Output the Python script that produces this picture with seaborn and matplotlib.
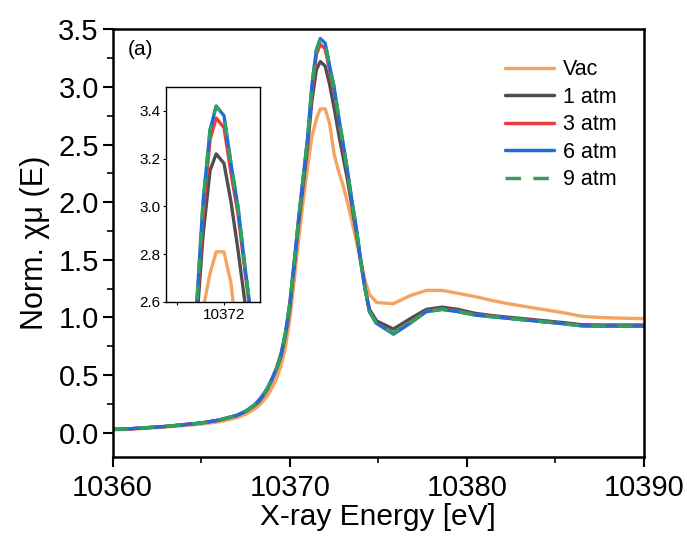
import numpy as np
import pandas as pd
import seaborn as sns
import matplotlib
matplotlib.use("Agg")
import matplotlib.pyplot as plt
from matplotlib.ticker import MultipleLocator, FixedLocator, FormatStrFormatter

sns.set_style("ticks")
plt.rcParams['font.family'] = ['Liberation Sans', 'DejaVu Sans']
plt.rcParams.update({'text.color': 'black', 'axes.labelcolor': 'black',
                     'xtick.color': 'black', 'ytick.color': 'black'})

energy = [10360, 10361, 10362, 10363, 10364, 10365, 10366, 10367, 10367.5, 10368,
          10368.25, 10368.5, 10368.75, 10369, 10369.25, 10369.5, 10369.75, 10370,
          10370.25, 10370.5, 10370.75, 10371, 10371.25,
          10371.5, 10371.72, 10372, 10372.25, 10372.5, 10372.75, 10373, 10373.25, 10373.5,
          10373.75, 10374, 10374.25, 10374.5, 10374.9, 10375.85, 10376.8, 10377.7, 10378.6,
          10379.5, 10380.5, 10381.5, 10382.5, 10383.5, 10384.5, 10385.5, 10386.5, 10387.5,
          10388.5, 10390]

vac = [0.025, 0.03, 0.04, 0.05, 0.062, 0.075, 0.095, 0.13, 0.16, 0.205,
       0.235, 0.275, 0.325, 0.39, 0.47, 0.58, 0.74, 0.98,
       1.32, 1.68, 2.0, 2.3, 2.57,
       2.72, 2.81, 2.81, 2.68, 2.42, 2.27, 2.15, 2.0, 1.84,
       1.67, 1.50, 1.32, 1.20, 1.13, 1.12, 1.19, 1.235, 1.235,
       1.21, 1.18, 1.145, 1.115, 1.09, 1.065, 1.04, 1.01, 1.0,
       0.995, 0.99]

atm1 = [0.03, 0.035, 0.045, 0.055, 0.07, 0.085, 0.11, 0.15, 0.185, 0.235,
        0.27, 0.32, 0.38, 0.46, 0.55, 0.66, 0.84, 1.08,
        1.44, 1.82, 2.14, 2.48, 2.88,
        3.15, 3.22, 3.18, 3.02, 2.82, 2.6, 2.4, 2.2, 1.97,
        1.74, 1.48, 1.25, 1.07, 0.97, 0.90, 0.99, 1.07, 1.09,
        1.07, 1.035, 1.015, 1.0, 0.985, 0.97, 0.955, 0.937, 0.935,
        0.935, 0.935]

atm3 = [0.03, 0.035, 0.045, 0.055, 0.07, 0.085, 0.11, 0.15, 0.185, 0.24,
        0.28, 0.33, 0.39, 0.47, 0.56, 0.68, 0.86, 1.12,
        1.48, 1.86, 2.19, 2.53, 2.96,
        3.28, 3.37, 3.33, 3.14, 2.97, 2.73, 2.5, 2.26, 2.01,
        1.77, 1.50, 1.25, 1.05, 0.95, 0.865, 0.955, 1.055, 1.075,
        1.055, 1.025, 1.008, 0.992, 0.978, 0.962, 0.947, 0.929, 0.927,
        0.927, 0.927]

atm6 = [0.03, 0.035, 0.045, 0.055, 0.07, 0.085, 0.11, 0.15, 0.185, 0.24,
        0.28, 0.33, 0.39, 0.47, 0.56, 0.68, 0.86, 1.12,
        1.48, 1.86, 2.21, 2.55, 3.02,
        3.32, 3.42, 3.38, 3.18, 3.0, 2.75, 2.52, 2.28, 2.02,
        1.78, 1.50, 1.25, 1.05, 0.95, 0.855, 0.95, 1.05, 1.07,
        1.05, 1.02, 1.005, 0.99, 0.975, 0.96, 0.945, 0.927, 0.925,
        0.925, 0.925]

atm9 = [0.03, 0.035, 0.045, 0.055, 0.07, 0.085, 0.11, 0.15, 0.185, 0.24,
        0.28, 0.33, 0.39, 0.47, 0.56, 0.68, 0.86, 1.12,
        1.48, 1.86, 2.21, 2.55, 3.02,
        3.32, 3.42, 3.38, 3.18, 3.0, 2.75, 2.52, 2.28, 2.02,
        1.78, 1.50, 1.25, 1.05, 0.94, 0.865, 0.955, 1.05, 1.07,
        1.05, 1.02, 1.005, 0.99, 0.975, 0.96, 0.945, 0.927, 0.925,
        0.925, 0.925]

labels = ["Vac", "1 atm", "3 atm", "6 atm", "9 atm"]
colors = ["#F5A360", "#4F4F4F", "#EE3B40", "#1F6ED8", "#2FA35C"]
series = [vac, atm1, atm3, atm6, atm9]

fig = plt.figure(figsize=(6.87, 5.38), dpi=100)
ax = fig.add_axes([0.164, 0.1506, 0.7735, 0.7949])
axin = fig.add_axes([0.2416, 0.4387, 0.1368, 0.3996])

for target in (ax, axin):
    for lab, col, vals in zip(labels, colors, series):
        sns.lineplot(x=energy, y=vals, ax=target, color=col, lw=2.4,
                     label=lab if target is ax else None, legend=False)
        if lab == "9 atm":
            target.lines[-1].set_dashes((4.5, 3.5))

ax.set_xlim(10360, 10390)
ax.set_ylim(-0.21, 3.5)
ax.xaxis.set_major_locator(MultipleLocator(10))
ax.xaxis.set_minor_locator(MultipleLocator(5))
ax.yaxis.set_major_locator(MultipleLocator(0.5))
ax.yaxis.set_minor_locator(MultipleLocator(0.25))
ax.yaxis.set_major_formatter(FormatStrFormatter('%.1f'))
ax.tick_params(which='major', direction='out', length=7, width=1.5, labelsize=21,
               top=False, right=False)
ax.tick_params(axis='x', which='major', pad=5)
ax.tick_params(axis='y', which='major', pad=3)
ax.tick_params(which='minor', direction='out', length=4, width=1.2, top=False, right=False)
for s in ax.spines.values():
    s.set_linewidth(1.8)
    s.set_color('black')
ax.set_xlabel("X-ray Energy [eV]", fontsize=21.5, labelpad=1)
ax.set_ylabel("Norm. χμ (E)", fontsize=22, labelpad=6)

ax.text(0.029, 0.975, "(a)", transform=ax.transAxes, fontsize=15, va='top', ha='left')

handles, labs = ax.get_legend_handles_labels()
leg = ax.legend(handles, labs, loc='upper left', bbox_to_anchor=(0.738, 0.93),
                frameon=False, fontsize=15.5, handlelength=2.3, handletextpad=0.4,
                labelspacing=0.3, borderpad=0, borderaxespad=0)
for h in leg.get_lines():
    h.set_linewidth(2.5)

axin.set_xlim(10369.92, 10373.29)
axin.set_ylim(2.6, 3.5)
axin.xaxis.set_major_locator(FixedLocator([10372]))
axin.xaxis.set_minor_locator(FixedLocator([10370.33]))
axin.yaxis.set_major_locator(FixedLocator([2.6, 2.8, 3.0, 3.2, 3.4]))
axin.yaxis.set_major_formatter(FormatStrFormatter('%.1f'))
axin.tick_params(which='both', direction='out', length=2, width=0.8, labelsize=11, pad=2)
for s in axin.spines.values():
    s.set_linewidth(1.0)
    s.set_color('black')
axin.set_xlabel("")
axin.set_ylabel("")

fig.savefig("out.png", dpi=100)
